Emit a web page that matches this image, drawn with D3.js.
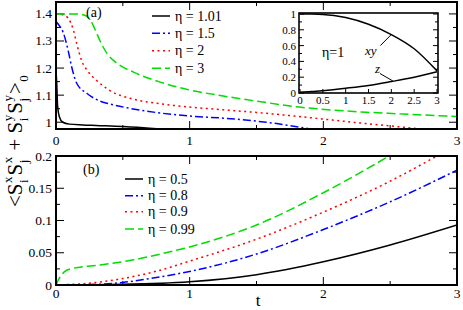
<!DOCTYPE html>
<html><head><meta charset="utf-8">
<script src="https://cdn.jsdelivr.net/npm/d3@7"></script>
<style>body{margin:0;background:#fff} svg text{fill:#000}</style>
</head><body><svg id="c" width="463" height="310"></svg>
<script>
// ---------- Panel (a) data ----------
const tA101 = [0, 0.005, 0.012, 0.025, 0.05, 0.1, 0.2, 0.3, 0.5, 0.7, 0.8];
const vA101 = [1.187, 1.15, 1.06, 1.02, 1.0, 0.993, 0.99, 0.988, 0.984, 0.978, 0.974];
const tA15 = [0, 0.02, 0.055, 0.09, 0.117, 0.155, 0.23, 0.33, 0.4, 0.6, 0.78, 1, 1.25, 1.5, 1.65, 1.82, 1.9];
const vA15 = [1.372, 1.36, 1.33, 1.267, 1.205, 1.144, 1.107, 1.078, 1.068, 1.047, 1.034, 1.023, 1.015, 1.004, 0.995, 0.982, 0.975];
const tA2 = [0, 0.05, 0.09, 0.13, 0.155, 0.19, 0.24, 0.3, 0.4, 0.58, 0.78, 1, 1.25, 1.5, 1.82, 2.07, 2.32, 2.57, 2.78];
const vA2 = [1.40, 1.397, 1.385, 1.34, 1.29, 1.23, 1.187, 1.156, 1.118, 1.085, 1.068, 1.056, 1.046, 1.036, 1.021, 1.008, 0.995, 0.983, 0.973];
const tA3 = [0, 0.15, 0.22, 0.26, 0.29, 0.33, 0.38, 0.45, 0.58, 0.78, 1, 1.25, 1.5, 1.82, 2.07, 2.32, 2.57, 3];
const vA3 = [1.40, 1.40, 1.394, 1.375, 1.345, 1.3, 1.255, 1.22, 1.185, 1.148, 1.119, 1.097, 1.078, 1.056, 1.045, 1.037, 1.031, 1.021];
const legendA = ["η = 1.01", "η = 1.5", "η = 2", "η = 3"];
const yTicksA = [1, 1.1, 1.2, 1.3, 1.4];
const yTickLabelsA = ["1", "1.1", "1.2", "1.3", "1.4"];
// ---------- Inset data ----------
const tIn = [0, 0.25, 0.5, 1, 1.5, 2, 2.5, 3];
const vInXY = [1, 0.999, 0.995, 0.955, 0.87, 0.74, 0.56, 0.28];
const vInZ = [0.01, 0.018, 0.03, 0.06, 0.095, 0.145, 0.2, 0.27];
const xTicksIn = [0, 0.5, 1, 1.5, 2, 2.5, 3];
const yTicksIn = [0, 0.2, 0.4, 0.6, 0.8, 1];
const yTickLabelsIn = ["0", "0.2", "0.4", "0.6", "0.8", "1"];
// ---------- Panel (b) data ----------
const tB05 = [0, 0.5, 1, 1.5, 2, 2.5, 3];
const vB05 = [0, 0.001, 0.005, 0.016, 0.036, 0.062, 0.093];
const tB08 = [0, 0.3, 0.5, 0.7, 1, 1.5, 2, 2.5, 3];
const vB08 = [0, 0.001, 0.004, 0.010, 0.021, 0.048, 0.086, 0.129, 0.178];
const tB09 = [0, 0.2, 0.5, 0.78, 1, 1.5, 2, 2.5, 2.85];
const vB09 = [0, 0.002, 0.010, 0.023, 0.037, 0.071, 0.113, 0.161, 0.2];
const tB099 = [0, 0.015, 0.03, 0.06, 0.13, 0.33, 0.58, 0.78, 1, 1.5, 2, 2.3, 2.55];
const vB099 = [0, 0.007, 0.012, 0.02, 0.026, 0.031, 0.039, 0.048, 0.059, 0.093, 0.143, 0.177, 0.207];
const legendB = ["η = 0.5", "η = 0.8", "η = 0.9", "η = 0.99"];
const yTicksB = [0, 0.05, 0.1, 0.15, 0.2];
const yTickLabelsB = ["0", "0.05", "0.1", "0.15", "0.2"];
const xTicks = [0, 1, 2, 3];

const colors = ["#000000", "#0000ff", "#ff0000", "#00dd00"];
const dashes = [null, "8,3,2,3", "2,3.5", "9,4"];
const FONT = "Liberation Serif";

const svg = d3.select("#c");
const L = 56, R = 457;
const x = d3.scaleLinear().domain([0, 3]).range([L, R]);
const yA = d3.scaleLinear().domain([0.975, 1.444]).range([129, 2]);
const yB = d3.scaleLinear().domain([0, 0.2]).range([285, 156]);

function txt(g, xx, yy, s, size, anchor) {
  return g.append("text").attr("x", xx).attr("y", yy).attr("font-family", FONT)
    .attr("font-size", size).attr("text-anchor", anchor || "start").text(s);
}

function frame(y, top, bot, yMaj, yMin, yLabs, id) {
  svg.append("clipPath").attr("id", id).append("rect")
    .attr("x", L).attr("y", top).attr("width", R - L).attr("height", bot - top);
  const g = svg.append("g");
  d3.range(0, 3.001, 0.5).forEach(v => {
    const len = Math.abs(v - Math.round(v)) < 1e-6 ? 8 : 4;
    g.append("line").attr("x1", x(v)).attr("x2", x(v)).attr("y1", bot).attr("y2", bot - len).attr("stroke", "#000");
    g.append("line").attr("x1", x(v)).attr("x2", x(v)).attr("y1", top).attr("y2", top + len).attr("stroke", "#000");
  });
  yMin.forEach(v => {
    const isMaj = yMaj.some(m => Math.abs(m - v) < 1e-6);
    const len = isMaj ? 8 : 4;
    g.append("line").attr("x1", L).attr("x2", L + len).attr("y1", y(v)).attr("y2", y(v)).attr("stroke", "#000");
    g.append("line").attr("x1", R).attr("x2", R - len).attr("y1", y(v)).attr("y2", y(v)).attr("stroke", "#000");
  });
  yMaj.forEach((v, i) => txt(g, L - 4, y(v) + 4.5, yLabs[i], 13.5, "end"));
  return g;
}

function curves(y, ts, vs, clipId) {
  const gl = svg.append("g").attr("clip-path", `url(#${clipId})`);
  ts.forEach((t, i) => {
    const pts = t.map((tt, j) => [tt, vs[i][j]]);
    gl.append("path").datum(pts)
      .attr("d", d3.line().x(d => x(d[0])).y(d => y(d[1])).curve(d3.curveMonotoneX))
      .attr("fill", "none").attr("stroke", colors[i]).attr("stroke-width", 1.5)
      .attr("stroke-dasharray", dashes[i]);
  });
}

function legend(labels, x0, ys) {
  labels.forEach((lab, i) => {
    svg.append("line").attr("x1", x0).attr("x2", x0 + 18).attr("y1", ys[i]).attr("y2", ys[i])
      .attr("stroke", colors[i]).attr("stroke-width", 1.5).attr("stroke-dasharray", dashes[i]);
    txt(svg, x0 + 23, ys[i] + 4.5, lab, 14);
  });
}

// ----- Panel (a)
const minA = d3.range(0, 10).map(i => +(1 + i * 0.05).toFixed(2)).filter(v => v <= 1.44);
frame(yA, 2, 129, yTicksA, minA, yTickLabelsA, "clipA");
curves(yA, [tA101, tA15, tA2, tA3], [vA101, vA15, vA2, vA3], "clipA");
svg.append("rect").attr("x", L).attr("y", 2).attr("width", R - L).attr("height", 127)
  .attr("fill", "none").attr("stroke", "#000").attr("stroke-width", 2);
xTicks.forEach(v => txt(svg, x(v), 145, v, 13.5, "middle"));
txt(svg, 86, 17, "(a)", 14);
legend(legendA, 152, [16, 33.3, 50.7, 68.3]);

// ----- Inset
const xi = d3.scaleLinear().domain([0, 3]).range([300, 437]);
const yi = d3.scaleLinear().domain([0, 1]).range([93, 14]);
svg.append("rect").attr("x", 299).attr("y", 13).attr("width", 139).attr("height", 80).attr("fill", "#fff");
const gi = svg.append("g");
d3.range(0, 1.001, 0.1).forEach(v => {
  const maj = Math.round(v * 10) % 2 === 0;
  const len = maj ? 5 : 3;
  gi.append("line").attr("x1", 299).attr("x2", 299 + len).attr("y1", yi(v)).attr("y2", yi(v)).attr("stroke", "#000");
  gi.append("line").attr("x1", 438).attr("x2", 438 - len).attr("y1", yi(v)).attr("y2", yi(v)).attr("stroke", "#000");
});
xTicksIn.forEach(v => {
  gi.append("line").attr("x1", xi(v)).attr("x2", xi(v)).attr("y1", 93).attr("y2", 89).attr("stroke", "#000");
  txt(gi, xi(v), 104, v, 11, "middle");
});
yTicksIn.forEach((v, i) => txt(gi, 296, yi(v) + 4, yTickLabelsIn[i], 11, "end"));
[vInXY, vInZ].forEach(vs => {
  gi.append("path").datum(tIn.map((t, j) => [t, vs[j]]))
    .attr("d", d3.line().x(d => xi(d[0])).y(d => yi(d[1])).curve(d3.curveMonotoneX))
    .attr("fill", "none").attr("stroke", "#000").attr("stroke-width", 1.5);
});
gi.append("rect").attr("x", 299).attr("y", 13).attr("width", 139).attr("height", 80)
  .attr("fill", "none").attr("stroke", "#000").attr("stroke-width", 1.6);
txt(gi, 322, 57, "η=1", 14);
txt(gi, 365, 55, "xy", 13).attr("font-style", "italic");
gi.append("line").attr("x1", xi(1.76)).attr("y1", yi(0.6)).attr("x2", xi(2.0)).attr("y2", yi(0.74)).attr("stroke", "#000");
txt(gi, 375, 73, "z", 13).attr("font-style", "italic");
gi.append("line").attr("x1", 380).attr("y1", 73.5).attr("x2", xi(2.04)).attr("y2", yi(0.15)).attr("stroke", "#000");

// ----- Panel (b)
const minB = d3.range(0, 9).map(i => +(i * 0.025).toFixed(3));
frame(yB, 156, 285, yTicksB, minB, yTickLabelsB, "clipB");
curves(yB, [tB05, tB08, tB09, tB099], [vB05, vB08, vB09, vB099], "clipB");
svg.append("rect").attr("x", L).attr("y", 156).attr("width", R - L).attr("height", 129)
  .attr("fill", "none").attr("stroke", "#000").attr("stroke-width", 2);
xTicks.forEach(v => txt(svg, x(v), 298, v, 13.5, "middle"));
txt(svg, 83, 174, "(b)", 14);
legend(legendB, 125, [179, 195.7, 211.7, 229]);
txt(svg, 258, 306, "t", 17, "middle");

// ----- Y label (rotated, built piecewise)
const yl = svg.append("g").attr("transform", "translate(22,0) rotate(-90)");
const pieces = [
  ["<", null, null], ["S", "x", "i"], ["S", "x", "j"], [" + ", null, null],
  ["S", "y", "i"], ["S", "y", "j"], [">", null, "0"]
];
let pos = -207;
pieces.forEach(p => {
  const m = txt(yl, pos, 0, p[0], 21).attr("xml:space", "preserve");
  pos += m.node().getComputedTextLength();
  let w = 0;
  if (p[1]) {
    const s = txt(yl, pos + 0.5, -10, p[1], 13);
    w = Math.max(w, s.node().getComputedTextLength());
  }
  if (p[2]) {
    const s = txt(yl, pos + 0.5, 6, p[2], 13);
    w = Math.max(w, s.node().getComputedTextLength());
  }
  pos += w ? w + 1.5 : 0;
});
</script></body></html>
